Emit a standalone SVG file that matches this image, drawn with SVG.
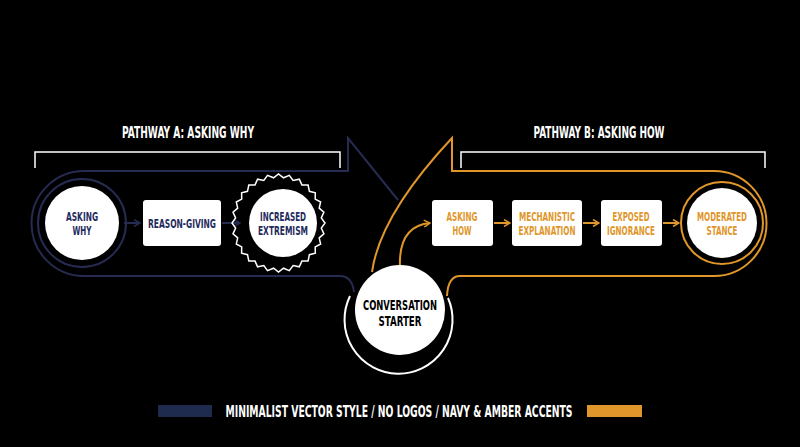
<svg xmlns="http://www.w3.org/2000/svg" width="800" height="447" viewBox="0 0 800 447">
<style>
text{font-family:"DejaVu Sans Condensed","Liberation Sans",sans-serif;font-weight:bold;text-anchor:middle}
.n{fill:#1f2a5c;font-size:12.5px}
.a{fill:#e0962a;font-size:12.5px}
.w{fill:#fff}
.t{fill:#fff;font-size:15px}
.nv{fill:none;stroke:#262b52;stroke-width:2}
.am{fill:none;stroke:#e0962a;stroke-width:2}
</style>
<defs>
<marker id="mn" markerWidth="8" markerHeight="8" refX="7" refY="4" orient="auto" markerUnits="userSpaceOnUse"><path d="M1,0.5 L7,4 L1,7.5" fill="none" stroke="#262b52" stroke-width="1.5"/></marker>
<marker id="ma" markerWidth="8" markerHeight="8" refX="7" refY="4" orient="auto" markerUnits="userSpaceOnUse"><path d="M1,0.5 L7,4 L1,7.5" fill="none" stroke="#e0962a" stroke-width="1.5"/></marker>
</defs>
<rect width="800" height="447" fill="#000"/>
<g id="titles">
<text class="t" x="188" y="138" textLength="132" lengthAdjust="spacingAndGlyphs">PATHWAY A: ASKING WHY</text>
<text class="t" x="599" y="138" textLength="131" lengthAdjust="spacingAndGlyphs">PATHWAY B: ASKING HOW</text>
<path d="M35,168 V152 H340 V168" fill="none" stroke="#fff" stroke-width="1.5"/>
<path d="M461,168 V152 H765 V168" fill="none" stroke="#fff" stroke-width="1.5"/>
</g>
<g id="connectors">
<path class="nv" d="M398,200 L348,138 V171 H84 A52.5,52.5 0 0 0 84,276 H340 Q352,276 354,292"/>
<path class="am" d="M372,272 Q380,215 452,138 V171 H714 A52.5,52.5 0 0 1 714,276 H460 Q448,276 447,296"/>
<path class="am" d="M400,268 Q398,226 430,223" marker-end="url(#ma)"/>
<path class="nv" d="M124,223 H140" marker-end="url(#mn)"/>
<path class="nv" d="M222,223 H240" marker-end="url(#mn)"/>
<path class="am" d="M494,223 H510" marker-end="url(#ma)"/>
<path class="am" d="M583,223 H599" marker-end="url(#ma)"/>
<path class="am" d="M663,223 H679" marker-end="url(#ma)"/>
</g>
<g id="asking-why">
<circle cx="82" cy="223" r="44" fill="none" stroke="#262b52" stroke-width="2"/>
<circle cx="82" cy="223" r="37" class="w"/>
<text class="n" x="82" y="221" textLength="32" lengthAdjust="spacingAndGlyphs">ASKING</text><text class="n" x="82" y="235" textLength="19" lengthAdjust="spacingAndGlyphs">WHY</text>
</g>
<g id="reason-giving">
<rect x="143" y="200" width="78" height="46" rx="3" class="w"/>
<text class="n" x="182" y="228" textLength="68" lengthAdjust="spacingAndGlyphs">REASON-GIVING</text>
</g>
<g id="increased-extremism">
<polygon fill="none" stroke="#fff" stroke-width="1.5" points="325.0,223.0 321.3,228.1 323.9,233.9 319.2,237.9 320.6,244.0 315.2,246.9 315.3,253.1 309.4,254.7 308.1,260.9 301.9,261.1 299.3,266.8 293.1,265.6 289.3,270.6 283.5,268.2 278.5,272.1 273.6,268.2 267.5,270.6 263.8,265.6 257.6,266.8 255.0,261.1 248.8,260.9 247.5,254.7 241.6,253.1 241.7,246.9 236.3,244.0 237.7,237.9 233.0,233.9 235.6,228.1 232.0,223.0 235.6,217.9 233.0,212.1 237.7,208.1 236.3,202.0 241.7,199.1 241.6,192.9 247.5,191.3 248.8,185.1 255.0,184.9 257.6,179.2 263.8,180.4 267.5,175.4 273.6,177.8 278.5,173.9 283.5,177.8 289.3,175.4 293.1,180.4 299.3,179.2 301.9,184.9 308.1,185.1 309.4,191.3 315.3,192.9 315.2,199.1 320.6,202.0 319.2,208.1 323.9,212.1 321.3,217.9"/>
<circle cx="283" cy="223" r="34" class="w"/>
<text class="n" x="283" y="221" textLength="46" lengthAdjust="spacingAndGlyphs">INCREASED</text><text class="n" x="283" y="235" textLength="50" lengthAdjust="spacingAndGlyphs">EXTREMISM</text>
</g>
<g id="conversation-starter">
<path d="M350,296 A54,54 0 1 0 448,298" fill="none" stroke="#fff" stroke-width="2"/>
<circle cx="400" cy="310" r="45" class="w"/>
<text x="400" y="310" style="font-size:14.5px;fill:#000" textLength="74" lengthAdjust="spacingAndGlyphs">CONVERSATION</text>
<text x="400" y="326" style="font-size:14.5px;fill:#000" textLength="43" lengthAdjust="spacingAndGlyphs">STARTER</text>
</g>
<g id="asking-how">
<rect x="432" y="200" width="61" height="46" rx="3" class="w"/>
<text class="a" x="462" y="221" textLength="31" lengthAdjust="spacingAndGlyphs">ASKING</text><text class="a" x="462" y="235" textLength="19" lengthAdjust="spacingAndGlyphs">HOW</text>
</g>
<g id="mechanistic">
<rect x="512" y="200" width="70" height="46" rx="3" class="w"/>
<text class="a" x="547" y="221" textLength="56" lengthAdjust="spacingAndGlyphs">MECHANISTIC</text><text class="a" x="547" y="235" textLength="57" lengthAdjust="spacingAndGlyphs">EXPLANATION</text>
</g>
<g id="exposed">
<rect x="601" y="200" width="61" height="46" rx="3" class="w"/>
<text class="a" x="631" y="221" textLength="37" lengthAdjust="spacingAndGlyphs">EXPOSED</text><text class="a" x="631" y="235" textLength="48" lengthAdjust="spacingAndGlyphs">IGNORANCE</text>
</g>
<g id="moderated">
<circle cx="722" cy="223" r="41" fill="none" stroke="#e0962a" stroke-width="2"/>
<circle cx="722" cy="223" r="35" class="w"/>
<text class="a" x="722" y="221" textLength="50" lengthAdjust="spacingAndGlyphs">MODERATED</text><text class="a" x="722" y="235" textLength="31" lengthAdjust="spacingAndGlyphs">STANCE</text>
</g>
<g id="legend">
<rect x="158" y="405" width="54" height="12" fill="#1f2a4f"/>
<rect x="587" y="405" width="55" height="12" fill="#e0962a"/>
<text class="t" x="399" y="417" style="font-size:16px" textLength="347" lengthAdjust="spacingAndGlyphs">MINIMALIST VECTOR STYLE / NO LOGOS / NAVY &amp; AMBER ACCENTS</text>
</g>
</svg>
